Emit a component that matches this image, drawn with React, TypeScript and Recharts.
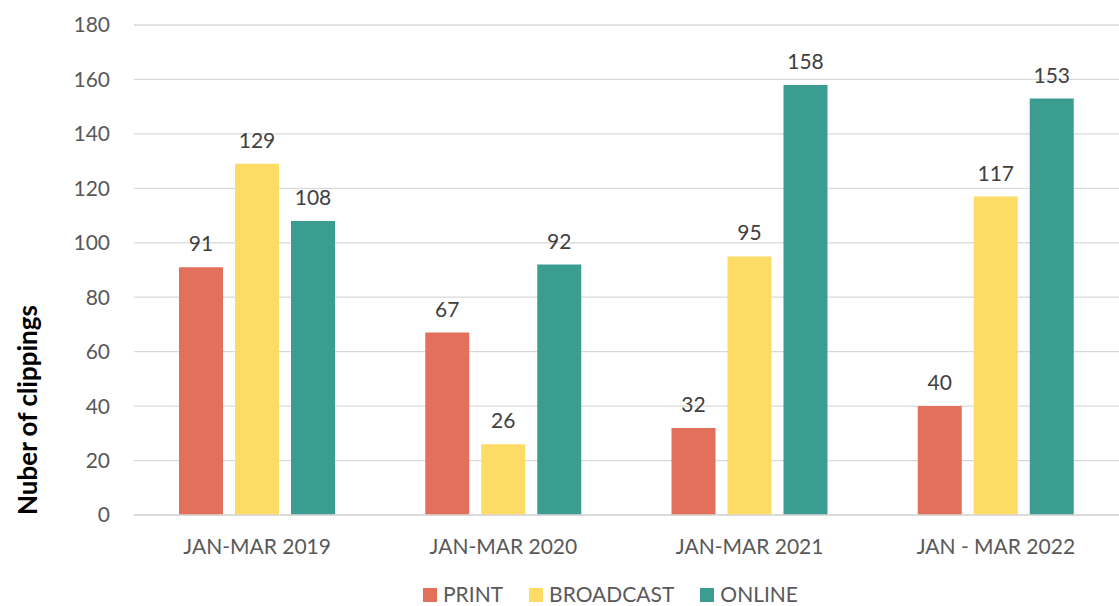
import React from "react";
import { BarChart, Bar, XAxis, YAxis, CartesianGrid, Legend, LabelList } from "recharts";

const categories = ["JAN-MAR 2019", "JAN-MAR 2020", "JAN-MAR 2021", "JAN - MAR 2022"];
const seriesNames = ["PRINT", "BROADCAST", "ONLINE"];
const printValues = [91, 67, 32, 40];
const broadcastValues = [129, 26, 95, 117];
const onlineValues = [108, 92, 158, 153];
const yTicks = [0, 20, 40, 60, 80, 100, 120, 140, 160, 180];

const data = categories.map((c, i) => ({
  name: c,
  PRINT: printValues[i],
  BROADCAST: broadcastValues[i],
  ONLINE: onlineValues[i],
}));

const FONT = "Lato, 'Open Sans', sans-serif";
const colors: Record<string, string> = { PRINT: "#E2705A", BROADCAST: "#FDDC66", ONLINE: "#3A9D8F" };

const renderLegend = () => {
  return (
    <div style={{ display: "flex", alignItems: "center", height: 41, paddingTop: 15, boxSizing: "border-box", paddingLeft: 423, fontFamily: FONT, fontSize: 21, color: "#595959" }}>
      {seriesNames.map((n) => (
        <div key={n} style={{ display: "flex", alignItems: "center", marginRight: 26, whiteSpace: "nowrap" }}>
          <span style={{ display: "inline-block", width: 14, height: 14, background: colors[n], marginRight: 6, marginTop: 3 }} />
          <span>{n}</span>
        </div>
      ))}
    </div>
  );
};

const YLabel = () => {
  const cy = 410;
  const cx = 27;
  return (
    <text x={cx} y={cy} transform={`rotate(-90, ${cx}, ${cy})`} textAnchor="middle" dominantBaseline="central" fontFamily={FONT} fontWeight={700} fontSize={26} fill="#000">
      Nuber of clippings
    </text>
  );
};

const tickStyle = { fontFamily: FONT, fontSize: 21, fill: "#595959" };
const labelStyle = { fontFamily: FONT, fontSize: 21, fill: "#404040" };

export default function App() {
  return (
    <div style={{ position: "absolute", left: 0, top: 0, background: "#fff" }}>
      <BarChart width={1119} height={606} data={data} margin={{ top: 25, right: 0, left: 0, bottom: 0 }} barGap={12} barSize={44}>
        <CartesianGrid vertical={false} stroke="#D9D9D9" strokeWidth={1.3} />
        <XAxis dataKey="name" tickLine={false} axisLine={{ stroke: "#D9D9D9", strokeWidth: 1.3 }} tickSize={0} tickMargin={24} height={50}
          tick={tickStyle} />
        <YAxis domain={[0, 180]} ticks={yTicks} width={134} tickLine={false} axisLine={false} tickSize={0} tickMargin={24}
          tick={tickStyle} label={<YLabel />} />
        <Legend content={renderLegend} height={41} />
        <Bar dataKey="PRINT" fill={colors.PRINT} isAnimationActive={false}>
          <LabelList dataKey="PRINT" position="top" offset={16} style={labelStyle} />
        </Bar>
        <Bar dataKey="BROADCAST" fill={colors.BROADCAST} isAnimationActive={false}>
          <LabelList dataKey="BROADCAST" position="top" offset={16} style={labelStyle} />
        </Bar>
        <Bar dataKey="ONLINE" fill={colors.ONLINE} isAnimationActive={false}>
          <LabelList dataKey="ONLINE" position="top" offset={16} style={labelStyle} />
        </Bar>
      </BarChart>
    </div>
  );
}
